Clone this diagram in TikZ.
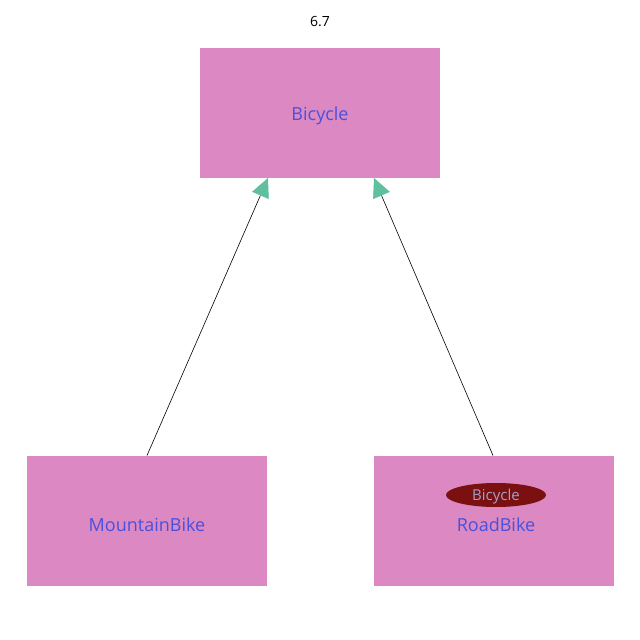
\documentclass[tikz,border=0pt]{standalone}
\usepackage{fontspec}
\setmainfont{Open Sans}
\usetikzlibrary{arrows.meta,shapes.geometric}
\definecolor{boxfill}{HTML}{DC88C2}
\definecolor{txtblue}{HTML}{4A50DC}
\definecolor{arrowgreen}{HTML}{5FBF9F}
\definecolor{ellred}{HTML}{7A1010}
\definecolor{elltxt}{HTML}{A0A0D0}
\tikzset{
  cls/.style={draw=none, fill=boxfill, minimum width=240pt, minimum height=130pt, inner sep=0pt},
  lbl/.style={text=txtblue, font=\fontsize{18}{21}\selectfont, inner sep=0pt},
  inh/.style={draw=black, line width=0.6pt, -{Triangle[width=18pt,length=19pt,fill=arrowgreen,color=arrowgreen]}},
}
\begin{document}
\begin{tikzpicture}[x=1pt,y=-1pt]
\useasboundingbox (0,0) rectangle (640,640);
\node[font=\fontsize{14}{16}\selectfont] (title) at (320,22) {6.7};
\node[cls] (bicycle) at (320,113) {};
\node[cls] (mountain) at (147,520.5) {};
\node[cls] (road) at (494,520.5) {};
\node[lbl] (biclbl) at (320,116) {Bicycle};
\node[lbl] (mtnlbl) at (147,525) {MountainBike};
\node[lbl] (roadlbl) at (496,525) {RoadBike};
\node[ellipse, fill=ellred, minimum width=100pt, minimum height=24pt, inner sep=0pt] (stereo) at (496,495) {};
\node[text=elltxt, font=\fontsize{15}{17}\selectfont, inner sep=0pt] (stereolbl) at (496,497) {Bicycle};
\coordinate (mtop) at (147,455.5);
\coordinate (rtop) at (493,455.5);
\coordinate (ltip) at (268,178);
\coordinate (rtip) at (374,178);
\draw[inh] (mtop) -- (ltip);
\draw[inh] (rtop) -- (rtip);
\end{tikzpicture}
\end{document}
